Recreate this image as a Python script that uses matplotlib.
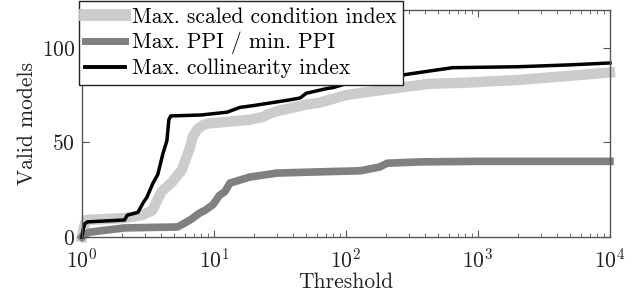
import matplotlib
matplotlib.use("Agg")
import matplotlib.pyplot as plt

plt.rcParams["font.family"] = ["cmr10", "DejaVu Serif"]
plt.rcParams["mathtext.fontset"] = "cm"
plt.rcParams["axes.formatter.use_mathtext"] = True
plt.rcParams["axes.unicode_minus"] = False

# Max. scaled condition index (light grey)
cond_x = [1.0, 1.03, 1.08, 2.1, 2.85, 3.4, 4.0, 4.8, 5.7, 6.6, 6.9, 7.5, 8.2, 9.0,
          18.8, 23.5, 26, 30, 50, 63, 100, 200, 430, 770, 2000, 3700, 10000]
cond_y = [0, 5, 9, 10, 11.6, 14, 24, 29, 35.4, 47.6, 53, 57, 59, 60,
          62, 63.5, 65, 66.5, 70, 71, 75, 78, 81, 81.5, 83, 84.5, 87]

# Max. PPI / min. PPI (dark grey)
ppi_x = [1.0, 1.05, 1.15, 2.1, 5.3, 6.6, 7.8, 8.5, 9.8, 11, 12.1, 13.2, 18.7,
         30, 60, 128, 180, 205, 360, 1000, 10000]
ppi_y = [0, 1.5, 2.6, 4.8, 5.3, 9, 12.7, 14, 17, 22, 24, 28.5, 31.7,
         33.8, 34.4, 35, 37, 39, 39.7, 40, 40]

# Max. collinearity index (black)
col_x = [1.0, 1.02, 1.05, 1.1, 2.1, 2.2, 2.65, 2.9, 3.1, 3.45, 3.75, 4.1, 4.4,
         4.55, 4.7, 8, 12.6, 15.7, 20, 37.6, 45, 50, 72, 80, 100, 200, 290, 455,
         640, 2000, 5000, 10000]
col_y = [0, 4, 7, 8, 9, 11.5, 13, 18, 21, 28.5, 33, 44, 51,
         62, 64, 64.5, 66, 68.5, 69.5, 72.5, 73.5, 76, 78.5, 79, 81, 84, 86, 88,
         89.5, 90, 91, 92]

labels = ["Max. scaled condition index", "Max. PPI / min. PPI",
          "Max. collinearity index"]

fig = plt.figure(figsize=(6.38, 2.98), dpi=100)
ax = fig.add_axes([82 / 638, 1 - 237 / 298, 528 / 638, 227 / 298])

ax.plot(cond_x, cond_y, color="#cccccc", lw=7.5, label=labels[0], clip_on=False)
ax.plot(ppi_x, ppi_y, color="#808080", lw=5.5, label=labels[1], clip_on=False)
ax.plot(col_x, col_y, color="black", lw=2.5, label=labels[2], clip_on=False)

ax.set_xscale("log")
ax.set_xlim(1, 1e4)
ax.set_ylim(0, 120)
ax.set_yticks([0, 50, 100])

for s in ax.spines.values():
    s.set_color("#555555")
    s.set_linewidth(1.0)
ax.tick_params(which="both", direction="in", top=True, right=True,
               color="#555555", labelsize=15.5, labelcolor="#222222")
ax.tick_params(which="major", length=5)
ax.tick_params(which="minor", length=3)
ax.tick_params(axis="x", which="major", pad=7.5)
ax.tick_params(axis="y", which="major", pad=5)

ax.set_xlabel("Threshold", fontsize=15.5, color="#222222", labelpad=1)
ax.set_ylabel("Valid models", fontsize=15.5, color="#222222", labelpad=3)

leg = ax.legend(loc="upper left", bbox_to_anchor=(-0.006, 1.04), borderaxespad=0,
                fontsize=15.5, frameon=True, fancybox=False, framealpha=1,
                handlelength=1.85, handletextpad=0.3, labelspacing=0.22,
                borderpad=0.3)
leg.get_frame().set_edgecolor("#222222")
leg.get_frame().set_linewidth(1.0)
for line, lw in zip(leg.get_lines(), [8.5, 5.0, 2.8]):
    line.set_linewidth(lw)

fig.savefig("out.png", dpi=100, facecolor="white")
